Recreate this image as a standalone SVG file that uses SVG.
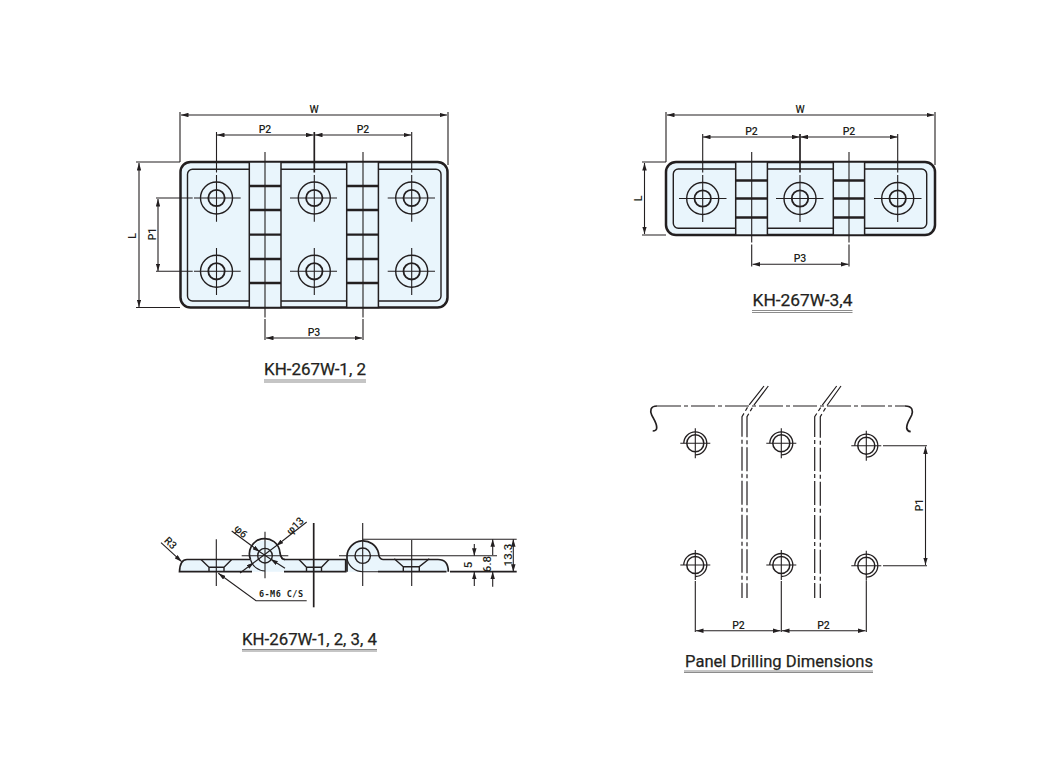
<svg xmlns="http://www.w3.org/2000/svg" width="1053" height="777" viewBox="0 0 1053 777">
<style>
text{font-family:"Roboto","Liberation Sans",sans-serif;fill:#231f20}
.d{font-size:10.5px;font-weight:500;text-anchor:middle}
.n{font-size:11.500px;font-weight:500;text-anchor:middle}
.t{font-size:17px;font-weight:400;text-anchor:middle;stroke:#231f20;stroke-width:.25}
.l{fill:none;stroke:#231f20;stroke-width:1.1}
.m{fill:none;stroke:#231f20;stroke-width:1.7}
.o{fill:#e9f5fc;stroke:#231f20;stroke-width:2.500}
.i{fill:none;stroke:#231f20;stroke-width:1.400}
.u{stroke:#8c8c8c;stroke-width:1.100}
.b{fill:#e9f5fc;stroke:#231f20;stroke-width:1.500}
.f{fill:#e9f5fc;stroke:none}
.h{stroke:#231f20;stroke-width:2.300}
.dd{fill:none;stroke:#231f20;stroke-width:1.200;stroke-dasharray:24 3 4 3}
</style>
<defs>
<marker id="a" viewBox="0 0 10 6" refX="10" refY="3" markerWidth="7.500" markerHeight="4.500" markerUnits="userSpaceOnUse" orient="auto-start-reverse"><path d="M0 0L10 3L0 6Z" fill="#231f20"/></marker>
<g id="hole"><circle r="16" fill="none" stroke="#231f20" stroke-width="1.400"/><circle r="8.200" fill="none" stroke="#231f20" stroke-width="1.800"/></g>
<g id="drill"><circle r="8.500" fill="none" stroke="#231f20" stroke-width="1.500"/><path d="M-11.500 0A11.500 11.500 0 1 1 0 11.500" fill="none" stroke="#231f20" stroke-width="1.300"/><path d="M-15 0H15M0 -15V15" class="l"/></g>
</defs>
<rect width="1053" height="777" fill="#fff"/>

<g id="view-1">
<rect class="o" x="180.500" y="162" width="267" height="145.500" rx="10"/>
<rect class="i" x="187.500" y="169.300" width="253.500" height="131.700" rx="5"/>
<rect class="b" x="249.300" y="162" width="31.700" height="145.500"/><rect class="b" x="346.700" y="162" width="31.700" height="145.500"/>
<path class="h" d="M249.300 186H281M249.300 210H281M249.300 234.700H281M249.300 259H281M249.300 283H281M346.700 186H378.400M346.700 210H378.400M346.700 234.700H378.400M346.700 259H378.400M346.700 283H378.400"/>
<use href="#hole" x="216.500" y="198"/><use href="#hole" x="314.300" y="198"/><use href="#hole" x="411.700" y="198"/>
<use href="#hole" x="216.500" y="271.300"/><use href="#hole" x="314.300" y="271.300"/><use href="#hole" x="411.700" y="271.300"/>
</g>
<g id="connectors-1">
<path class="l" d="M180 112V162M448 112V165M136 162H180M136 307.500H180"/>
<path class="l" d="M181 115H447" marker-start="url(#a)" marker-end="url(#a)"/>
<path class="l" d="M217 135H313.500" marker-start="url(#a)" marker-end="url(#a)"/>
<path class="l" d="M315 135H411" marker-start="url(#a)" marker-end="url(#a)"/>
<path class="l" d="M216.500 132V172.500M216.500 175V221.700M216.500 248V295M411.700 132V172.500M411.700 175V221.700M411.700 248V295"/>
<path class="m" d="M314.300 132V172.500"/><path class="l" d="M314.300 175V221.700M314.300 248V295"/>
<path class="l" d="M156 198H192.700M194 198H240.700M156 271.300H192.700M194 271.300H240.700M290 198H337M290 271.300H337M387.700 198H435M387.700 271.300H435"/>
<path class="l" d="M265 152V317.500M265 319V340M363 152V317.500M363 319V340"/>
<path class="l" d="M266 338H362" marker-start="url(#a)" marker-end="url(#a)"/>
<path class="l" d="M139 163V307" marker-start="url(#a)" marker-end="url(#a)"/>
<path class="l" d="M158 199V271" marker-start="url(#a)" marker-end="url(#a)"/>
</g>
<g id="labels-1">
<text class="d" x="314" y="113">W</text><text class="d" x="265" y="133">P2</text><text class="d" x="363" y="133">P2</text><text class="d" x="314" y="336">P3</text>
<text class="d" transform="translate(136 236) rotate(-90)">L</text><text class="d" transform="translate(156 234) rotate(-90)">P1</text>
<text class="t" x="315" y="375" textLength="102" lengthAdjust="spacingAndGlyphs">KH-267W-1, 2</text>
<path class="u" d="M264 380H366M264 382H366"/>
</g>

<g id="view-2">
<rect class="o" x="666" y="162" width="269" height="73" rx="10"/>
<rect class="i" x="673.300" y="169" width="253.400" height="59.300" rx="5"/>
<rect class="b" x="735.700" y="162" width="31.700" height="73"/><rect class="b" x="833.300" y="162" width="31.300" height="73"/>
<path class="h" d="M735.700 180.500H767.400M735.700 198.500H767.400M735.700 217.500H767.400M833.300 180.500H864.600M833.300 198.500H864.600M833.300 217.500H864.600"/>
<use href="#hole" x="702.700" y="198.500"/><use href="#hole" x="800" y="198.500"/><use href="#hole" x="897.700" y="198.500"/>
</g>
<g id="connectors-2">
<path class="l" d="M666 112V162M935 112V165M642 162H666M642 235H666"/>
<path class="l" d="M667 115H934" marker-start="url(#a)" marker-end="url(#a)"/>
<path class="l" d="M703 137H799.500" marker-start="url(#a)" marker-end="url(#a)"/>
<path class="l" d="M800.500 137H897.500" marker-start="url(#a)" marker-end="url(#a)"/>
<path class="l" d="M702.700 134V172.500M702.700 175V222M897.700 134V172.500M897.700 175V222"/>
<path class="m" d="M800 134V172.500"/><path class="l" d="M800 175V222"/>
<path class="l" d="M679 198.500H726.500M776 198.500H823.500M874 198.500H921.500"/>
<path class="l" d="M751.700 152V242.500M751.700 244.500V266.500M849 152V242.500M849 244.500V266.500"/>
<path class="l" d="M752.500 264.300H848.500" marker-start="url(#a)" marker-end="url(#a)"/>
<path class="l" d="M644.500 163V234" marker-start="url(#a)" marker-end="url(#a)"/>
</g>
<g id="labels-2">
<text class="d" x="800" y="112.500">W</text><text class="d" x="751.500" y="135">P2</text><text class="d" x="849" y="135">P2</text><text class="d" x="800" y="262">P3</text>
<text class="d" transform="translate(642 198.500) rotate(-90)">L</text>
<text class="t" x="802.500" y="305.500" textLength="100" lengthAdjust="spacingAndGlyphs">KH-267W-3,4</text>
<path class="u" d="M752 310.500H852.500M752 312.500H852.500"/>
</g>

<g id="view-3">
<path class="f" d="M179.500 571.700Q180 559.500 187 559.500H345.700V571.700Z"/>
<circle cx="265" cy="555.700" r="15.300" class="f"/>
<path class="m" d="M252 571.700H179.500Q180 559.500 187 559.500H250.500M284 559.500H345.700V571.700H284"/>
<path class="m" d="M250.500 559.500A15.300 15.300 0 1 1 280 553Q281 559.500 285 559.500"/>
<path class="l" d="M250.500 559.500A15.300 15.300 0 0 0 265 571"/>
<path class="i" d="M201 559.500L209 567.300V571.700M231.700 559.500L224 567.300V571.700M209 567.300H224M299 559.500L306.500 567.300V571.700M329 559.500L321.500 567.300V571.700M306.500 567.300H321.500"/>
<circle cx="265" cy="555.700" r="7.300" class="i"/>
<path class="f" d="M346.700 571.700V555.700A16 16 0 0 1 378.500 555.700Q379 559.500 383 559.500H438Q448.300 559.500 448.300 571.700Z"/>
<path class="m" d="M347 571.700V555.700A16 16 0 0 1 378.500 553Q379 559.500 383 559.500H438Q448.300 559.500 448.300 571.700M378 571.700H446.500"/>
<path class="l" d="M347.200 559.500A16 16 0 0 0 362.700 571.700H378"/>
<circle cx="362.700" cy="555.700" r="7.700" class="i"/>
<path class="i" d="M394.300 558.800L403.300 566.700V571.700M429.300 558.800L419.300 566.700V571.700M403.300 566.700H419.300"/>
</g>
<g id="connectors-3">
<path class="l" d="M216.300 539.300V586M265 531.700V578.300M241.700 555.700H288.300M362.700 523V586M339 555.700H497M411.700 540V586"/>
<path class="m" d="M313.700 523V607.300"/>
<path class="l" d="M161 542.700L181.700 561.700" marker-end="url(#a)"/>
<path class="l" d="M306.700 522L276 546" marker-end="url(#a)"/>
<path class="l" d="M240 573L254 562.500" marker-end="url(#a)"/>
<path class="l" d="M231.700 531L260 552" marker-end="url(#a)"/>
<path class="l" d="M285 568.300L270.500 559" marker-end="url(#a)"/>
<path class="l" d="M276 546L254 562.500M260 552L270.500 559"/>
<path class="l" d="M306.700 600.700H256L218.300 573.300" marker-end="url(#a)"/>
<path class="l" d="M362.700 539.300H516.700"/>
<path class="m" d="M450 571.700H516.700"/>
<path class="l" d="M474.300 544V555.700" marker-end="url(#a)"/>
<path class="l" d="M474.300 586V571.700" marker-end="url(#a)"/>
<path class="l" d="M492.700 539.300V555" marker-start="url(#a)"/>
<path class="l" d="M492.700 586.700V571.700" marker-end="url(#a)"/>
<path class="l" d="M513.300 539.300V571.700" marker-start="url(#a)" marker-end="url(#a)"/>
</g>
<g id="labels-3">
<text class="d" transform="translate(168 545.500) rotate(44)">R3</text>
<text class="d" transform="translate(238.500 534) rotate(44)">φ6</text>
<text class="d" transform="translate(297.500 528.500) rotate(-44)">φ13</text>
<text x="281" y="597" text-anchor="middle" font-size="8.500" font-weight="700" textLength="44" style="font-family:'DejaVu Sans Mono',monospace">6-M6 C/S</text>
<text class="n" transform="translate(472 565) rotate(-90)">5</text>
<text class="n" transform="translate(491 564) rotate(-90)">6.8</text>
<text class="n" transform="translate(511.500 555) rotate(-90)">13.3</text>
<text class="t" x="309.500" y="645" textLength="135" lengthAdjust="spacingAndGlyphs">KH-267W-1, 2, 3, 4</text>
<path class="u" d="M242 649.500H377M242 651H377"/>
</g>

<g id="view-4">
<path class="dd" d="M657 406H905"/>
<path class="m" d="M657 406C650 406 650 411 651.700 415C653.500 419 657 423 656.700 428C656.500 430 654.500 431 652.700 431"/>
<path class="m" d="M905 406C913 406 913 411 911.700 415C910 419 906.500 423 906.700 428C907 430 909 431.500 910.700 431.700"/>
<path class="dd" d="M764 386L748.300 406L742 416.700V598"/>
<path class="dd" d="M768.300 386L753.300 406L747 416.700V598"/>
<path class="dd" d="M836.700 386L821.700 406L814.700 416.700V598"/>
<path class="dd" d="M841 386L826.700 406L820.300 416.700V598"/>
<use href="#drill" x="695.300" y="443.300"/><use href="#drill" x="781.300" y="443.300"/><use href="#drill" x="866.300" y="445.700"/>
<use href="#drill" x="695.300" y="565"/><use href="#drill" x="781.300" y="565"/><use href="#drill" x="866.300" y="565.700"/>
</g>
<g id="connectors-4">
<path class="l" d="M883 445.700H927M883 565.700H927M695.300 581V632M781.300 581V632M866.300 581V632"/>
<path class="l" d="M925.500 446.500V565" marker-start="url(#a)" marker-end="url(#a)"/>
<path class="l" d="M696 630.700H780.500" marker-start="url(#a)" marker-end="url(#a)"/>
<path class="l" d="M782 630.700H865.500" marker-start="url(#a)" marker-end="url(#a)"/>
</g>
<g id="labels-4">
<text class="d" transform="translate(923 505) rotate(-90)">P1</text>
<text class="d" x="738.500" y="629">P2</text><text class="d" x="823.500" y="629">P2</text>
<text class="t" x="779" y="667" textLength="188" lengthAdjust="spacingAndGlyphs">Panel Drilling Dimensions</text>
<path class="u" d="M684 671H873M684 672.500H873"/>
</g>
</svg>
